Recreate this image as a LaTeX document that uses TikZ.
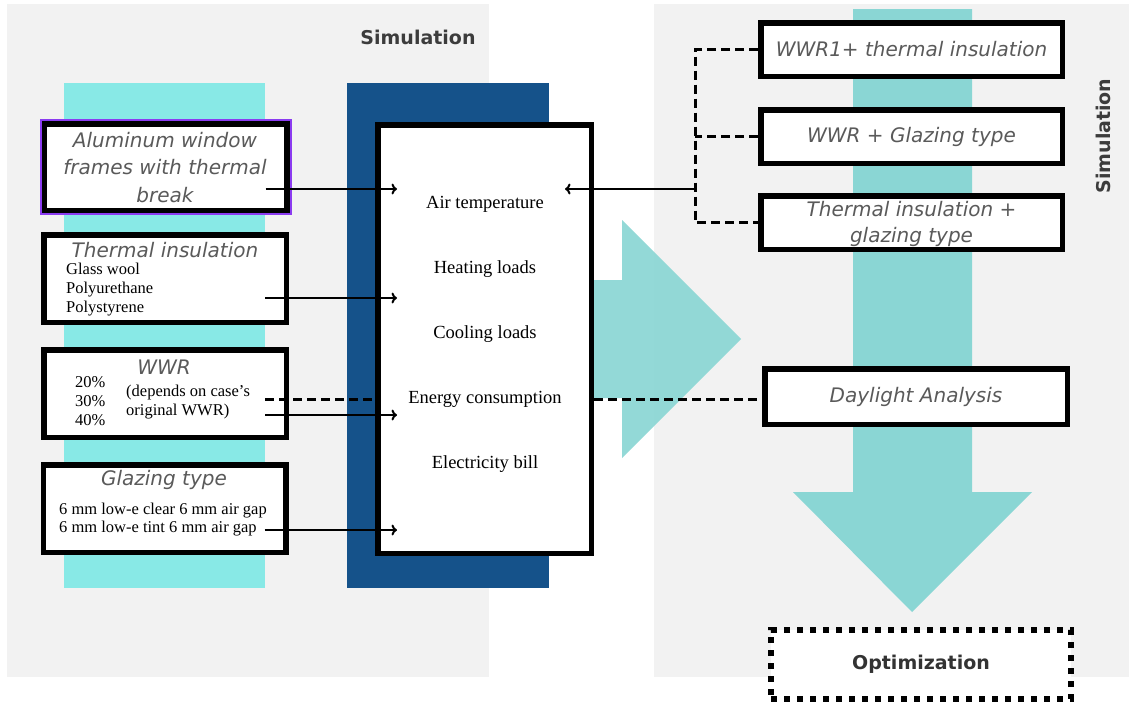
\documentclass[tikz,border=0pt]{standalone}
\usepackage{fontspec}
\setmainfont{Liberation Serif}
\newfontfamily\canva{DejaVu Sans}
\usetikzlibrary{positioning,arrows.meta}
\definecolor{panelgray}{HTML}{F2F2F2}
\definecolor{barcyan}{HTML}{88E9E6}
\definecolor{deepblue}{HTML}{15528A}
\definecolor{flowteal}{HTML}{8AD6D4}
\definecolor{notegray}{HTML}{5A5A5A}
\definecolor{headgray}{HTML}{3C3C3C}
\definecolor{framepurple}{HTML}{8B3CF0}

\begin{document}
\begin{tikzpicture}[x=1pt,y=-1pt,
  box/.style={draw=black,line width=5.5pt,fill=white,inner sep=0pt},
  sidebox/.style={box,minimum width=242.5pt,minimum height=87.5pt},
  runbox/.style={box,minimum width=301.5pt,minimum height=53.5pt},
  note/.style={font=\canva\itshape\fontsize{20}{27.5}\selectfont,text=notegray,align=center,inner sep=0pt},
  head/.style={font=\canva\bfseries\fontsize{19}{20}\selectfont,text=headgray,inner sep=0pt},
  plain/.style={font=\fontsize{16.5}{19}\selectfont,align=left,inner sep=0pt,anchor=west},
  result/.style={font=\fontsize{18.5}{20}\selectfont,inner sep=0pt},
  flow/.style={-{To[length=5.5pt,width=11pt,line width=2pt]},line width=2.3pt},
  link/.style={dash pattern=on 9pt off 5pt,line width=3pt}]

\useasboundingbox (0,0) rectangle (1129,705);
\fill[white] (0,0) rectangle (1129,705);

\fill[panelgray] (7,4) rectangle (489,677);
\fill[panelgray] (654,4) rectangle (1129,677);
\fill[flowteal] (853,9) -- (972,9) -- (972,492) -- (1032,492) -- (912,612) -- (793,492) -- (853,492) -- cycle;
\fill[barcyan] (64,83) rectangle (265,588);
\fill[deepblue] (347,83) rectangle (549,588);
\fill[flowteal,opacity=.92] (560,280) -- (622,280) -- (622,220) -- (741,339) -- (622,458) -- (622,398) -- (560,398) -- cycle;

\node[head] (simA) at (418,37) {Simulation};
\node[head,rotate=90] (simB) at (1103,136) {Simulation};

\node[sidebox,minimum height=86.5pt] (alu) at (165.5,167) {};
\draw[framepurple,line width=2pt] ([shift={(-1,-1)}]alu.north west) rectangle ([shift={(1,1)}]alu.south east);
\node[sidebox] (ins) at (165,278.5) {};
\node[sidebox] (wwr) at (165,393.5) {};
\node[sidebox] (glz) at (164.5,508.5) {};
\node[box,minimum width=213.5pt,minimum height=428.5pt] (res) at (484.5,339) {};

\node[runbox] (wA) at (911.5,49.5) {};
\node[runbox] (wB) at (911.5,136.5) {};
\node[runbox] (wC) at (911.5,222.5) {};
\node[box,minimum width=302.5pt,minimum height=55.5pt] (day) at (916,396.5) {};
\node[draw=black,fill=white,line width=5.5pt,dash pattern=on 6pt off 7pt,minimum width=300pt,minimum height=69pt] (opt) at (921,664.5) {};

\node[note] (aluT) at (165,167.5) {Aluminum window\\frames with thermal\\break};
\node[note] (insT) at (165,250) {Thermal insulation};
\node[plain] (insL) at (66,290) {Glass wool\\Polyurethane\\Polystyrene};
\node[note] (wwrT) at (164,367) {WWR};
\node[plain] (wwrP) at (75,401) {20\%\\30\%\\40\%};
\node[plain] (wwrN) at (126,402.5) {(depends on case’s\\original WWR)};
\node[note] (glzT) at (164,480) {Glazing type};
\node[plain,font=\fontsize{16.5}{18}\selectfont] (glzL) at (59,520) {6 mm low-e clear 6 mm air gap\\6 mm low-e tint 6 mm air gap};

\node[result] (tAir) at (485,204) {Air temperature};
\node[result] (tHeat) at (485,269) {Heating loads};
\node[result] (tCool) at (485,334) {Cooling loads};
\node[result] (tEng) at (485,399) {Energy consumption};
\node[result] (tBill) at (485,464) {Electricity bill};

\node[note] (wAT) at (wA) {WWR1+ thermal insulation};
\node[note] (wBT) at (wB) {WWR + Glazing type};
\node[note,font=\canva\itshape\fontsize{20}{26}\selectfont] (wCT) at (911.5,224) {Thermal insulation +\\glazing type};
\node[note] (dayT) at (day) {Daylight Analysis};
\node[head,text=black!80] (optT) at (opt) {Optimization};

\coordinate (aluIn) at (397,189);
\coordinate (insIn) at (397,298);
\coordinate (wwrIn) at (397,415);
\coordinate (glzIn) at (397,530);
\coordinate (brk) at (695,189);
\coordinate (airIn) at (565,189);

\draw[flow] ([xshift=-24pt]alu.east |- aluIn) -- (aluIn);
\draw[flow] ([xshift=-24pt]ins.east |- insIn) -- (insIn);
\draw[flow] ([xshift=-24pt]wwr.east |- wwrIn) -- (wwrIn);
\draw[flow] ([xshift=-24pt]glz.east |- glzIn) -- (glzIn);
\draw[link] ([xshift=-24pt]wwr.east |- tEng) -- (res.west |- tEng);
\draw[link] (res.east |- tEng) -- (day.west |- tEng);

\draw[link] (wA.west) -| (brk) |- (wC.west);
\draw[link] (wB.west) -- (wB.west -| brk);
\draw[flow] (brk) -- (airIn);

\end{tikzpicture}
\end{document}
